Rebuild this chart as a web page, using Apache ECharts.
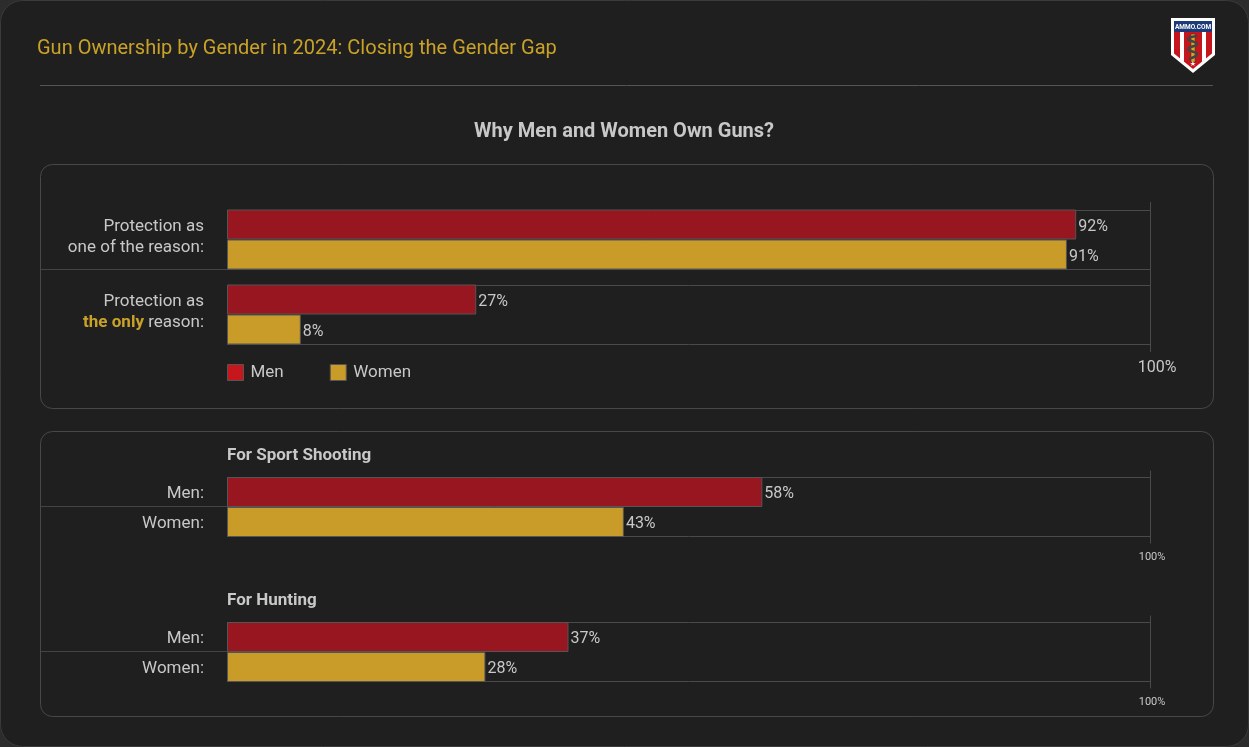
<!DOCTYPE html>
<html>
<head>
<meta charset="utf-8">
<title>Gun Ownership by Gender in 2024</title>
<script src="https://cdn.jsdelivr.net/npm/echarts@6/dist/echarts.min.js"></script>
<style>
  html, body { margin: 0; padding: 0; background: #2c2c2c; }
  #chart { width: 1249px; height: 747px; }
</style>
</head>
<body>
<div id="chart"></div>
<script>
// data
const reasonCategories = ['Protection as\none of the reason:', 'Protection as\n{hl|the only} reason:']
const menReason = [92, 27]
const womenReason = [91, 8]
const rowLabels = ['Men:', 'Women:']
const sportShooting = [58, 43]
const hunting = [37, 28]
const axisMax = 100

const MEN = '#98161f'
const WOMEN = '#c99b28'
const TEXT = '#c8c8c8'
const GOLD = '#c9a227'
const FRAME = '#4a4a4a'
const PANEL_LEFT = 40

const chart = echarts.init(document.getElementById('chart'))

function line(x1, y1, x2, y2, color) {
  return {
    type: 'line',
    shape: { x1: x1, y1: y1, x2: x2, y2: y2 },
    style: { stroke: color || FRAME, lineWidth: 1 }
  }
}

// frame around the grouped bars (panel 1)
function groupFrame(params, api) {
  const idx = api.value(1)
  const a = api.coord([0, idx])
  const b = api.coord([axisMax, idx])
  const band = api.size([0, 1])[1]
  const h = band * 0.8
  const top = Math.round(a[1] - h / 2) + 0.5
  const bottom = Math.round(a[1] + h / 2) - 0.5
  const right = Math.round(b[0]) + 0.5
  const cs = params.coordSys
  const children = [
    line(a[0], top, right, top),
    line(a[0], bottom, right, bottom)
  ]
  if (idx === 0) {
    children.push(line(right, cs.y, right, cs.y + cs.height))
    children.push(line(PANEL_LEFT, bottom, a[0], bottom, '#444'))
  }
  return { type: 'group', children: children }
}

// frame around the men / women pair (panel 2)
function pairFrame(params, api) {
  const cs = params.coordSys
  const right = Math.round(api.coord([axisMax, 0])[0]) + 0.5
  const top = cs.y + 0.5
  const bottom = cs.y + cs.height - 0.5
  const mid = Math.round(cs.y + cs.height / 2) - 0.5
  return {
    type: 'group',
    children: [
      line(cs.x, top, right, top),
      line(cs.x, bottom, right, bottom),
      line(right, top - 7, right, bottom + 7),
      line(PANEL_LEFT, mid, cs.x, mid, '#444')
    ]
  }
}

const barLabel = {
  show: true,
  position: 'right',
  distance: 2,
  offset: [0, 2],
  color: TEXT,
  fontSize: 16,
  fontFamily: 'Roboto',
  formatter: '{c}%'
}
const barBorder = { borderColor: '#555', borderWidth: 1 }

function xAxisFor(gridIndex, fontSize, margin) {
  return {
    gridIndex: gridIndex,
    type: 'value',
    min: 0,
    max: axisMax,
    interval: axisMax,
    axisLine: { show: false },
    axisTick: { show: false },
    splitLine: { show: false },
    axisLabel: {
      showMinLabel: false,
      formatter: '{value}%',
      color: TEXT,
      fontSize: fontSize,
      fontFamily: 'Roboto',
      margin: margin,
      padding: [0, 0, 0, fontSize === 16 ? 14 : 4]
    }
  }
}

function yAxisFor(gridIndex, data) {
  return {
    gridIndex: gridIndex,
    type: 'category',
    data: data,
    inverse: true,
    axisLine: { show: false },
    axisTick: { show: false },
    axisLabel: {
      color: TEXT,
      fontSize: 17,
      fontFamily: 'Roboto',
      margin: 23,
      lineHeight: 21,
      padding: gridIndex === 0 ? [0, 0, 5, 0] : [4, 0, 0, 0],
      rich: {
        hl: { color: GOLD, fontWeight: 'bold', fontSize: 17, fontFamily: 'Roboto', lineHeight: 21 }
      }
    }
  }
}

function pairColors(values) {
  return values.map(function (v, i) {
    return { value: v, itemStyle: { color: i === 0 ? MEN : WOMEN } }
  })
}

function titleText(text, x, y, opts) {
  return {
    type: 'text',
    x: x,
    y: y,
    style: Object.assign({
      text: text,
      fill: TEXT,
      fontFamily: 'Roboto',
      fontSize: 17,
      verticalAlign: 'middle'
    }, opts || {})
  }
}

// ammo.com badge
const logo = {
  type: 'group',
  x: 1171,
  y: 18,
  children: [
    { type: 'polygon', shape: { points: [[0, 0], [44, 0], [44, 37], [22, 55], [0, 37]] }, style: { fill: '#fff' } },
    { type: 'polygon', shape: { points: [[3, 3], [41, 3], [41, 35.5], [22, 51], [3, 35.5]] }, style: { fill: '#c4161c' } },
    { type: 'polygon', shape: { points: [[9, 14], [13, 14], [13, 44], [9, 41]] }, style: { fill: '#fff' } },
    { type: 'polygon', shape: { points: [[31, 14], [35, 14], [35, 41], [31, 44]] }, style: { fill: '#fff' } },
    { type: 'rect', shape: { x: 3, y: 3, width: 38, height: 11 }, style: { fill: '#1d3b78' } },
    { type: 'text', x: 22, y: 9, style: { text: 'AMMO.COM', fill: '#fff', fontSize: 6.5, fontWeight: 'bold', fontFamily: 'Liberation Sans Narrow, Roboto', align: 'center', verticalAlign: 'middle' } },
    { type: 'rect', shape: { x: 20, y: 16, width: 4, height: 28 }, style: { fill: '#d8a520', stroke: '#333', lineWidth: 0.5 } },
    { type: 'polyline', shape: { points: [[26, 18], [17, 21], [26, 26], [17, 31], [26, 36], [18, 41]], smooth: 0.5 }, style: { fill: null, stroke: '#444', lineWidth: 2.5 } },
    { type: 'text', x: 22, y: 46, style: { text: '★', fill: '#fff', fontSize: 7, fontFamily: 'DejaVu Sans', align: 'center', verticalAlign: 'middle' } }
  ]
}

const option = {
  backgroundColor: 'transparent',
  animation: false,
  graphic: [
    { type: 'rect', z: -10, shape: { x: 0.5, y: 0.5, width: 1248, height: 746, r: 22 }, style: { fill: '#1f1f1f', stroke: '#3a3a3a', lineWidth: 1 } },
    titleText('Gun Ownership by Gender in 2024: Closing the Gender Gap', 37, 49, { fill: GOLD, fontSize: 20 }),
    line(40, 85.5, 1213, 85.5, '#555'),
    logo,
    titleText('Why Men and Women Own Guns?', 624, 132, { fontSize: 20, fontWeight: 'bold', align: 'center' }),
    { type: 'rect', z: -5, shape: { x: 40.5, y: 164.5, width: 1173, height: 244, r: 12 }, style: { fill: '#1f1f1f', stroke: '#484848', lineWidth: 1 } },
    { type: 'rect', z: -5, shape: { x: 40.5, y: 431.5, width: 1173, height: 285, r: 12 }, style: { fill: '#1f1f1f', stroke: '#484848', lineWidth: 1 } },
    titleText('For Sport Shooting', 227, 456, { fontWeight: 'bold' }),
    titleText('For Hunting', 227, 601, { fontWeight: 'bold' })
  ],
  legend: {
    left: 227,
    top: 364,
    padding: 0,
    itemWidth: 16,
    itemHeight: 16,
    itemGap: 46,
    icon: 'rect',
    data: [
      { name: 'Men', itemStyle: { color: '#c8161d', borderColor: '#555', borderWidth: 1 } },
      { name: 'Women', itemStyle: { color: WOMEN, borderColor: '#555', borderWidth: 1 } }
    ],
    textStyle: { color: TEXT, fontSize: 17, fontFamily: 'Roboto', padding: [0, 0, 0, 2] }
  },
  grid: [
    { left: 227, width: 923, top: 202, height: 150 },
    { left: 227, width: 923, top: 477, height: 60 },
    { left: 227, width: 923, top: 622, height: 60 }
  ],
  xAxis: [xAxisFor(0, 16, 8), xAxisFor(1, 11, 15), xAxisFor(2, 11, 15)],
  yAxis: [yAxisFor(0, reasonCategories), yAxisFor(1, rowLabels), yAxisFor(2, rowLabels)],
  series: [
    {
      type: 'custom', name: 'frame0', xAxisIndex: 0, yAxisIndex: 0, z: 1,
      renderItem: groupFrame, encode: { x: 0, y: 1 }, data: [[0, 0], [0, 1]], silent: true
    },
    {
      name: 'Men', type: 'bar', xAxisIndex: 0, yAxisIndex: 0, z: 2,
      barCategoryGap: '20%', barGap: '0%',
      itemStyle: Object.assign({ color: MEN }, barBorder),
      label: barLabel, data: menReason
    },
    {
      name: 'Women', type: 'bar', xAxisIndex: 0, yAxisIndex: 0, z: 2,
      barCategoryGap: '20%', barGap: '0%',
      itemStyle: Object.assign({ color: WOMEN }, barBorder),
      label: barLabel, data: womenReason
    },
    {
      type: 'custom', name: 'frame1', xAxisIndex: 1, yAxisIndex: 1, z: 1,
      renderItem: pairFrame, encode: { x: 0, y: 1 }, data: [[0, 0]], silent: true
    },
    {
      name: 'Sport Shooting', type: 'bar', xAxisIndex: 1, yAxisIndex: 1, z: 2,
      barCategoryGap: '0%', itemStyle: barBorder,
      label: barLabel, data: pairColors(sportShooting)
    },
    {
      type: 'custom', name: 'frame2', xAxisIndex: 2, yAxisIndex: 2, z: 1,
      renderItem: pairFrame, encode: { x: 0, y: 1 }, data: [[0, 0]], silent: true
    },
    {
      name: 'Hunting', type: 'bar', xAxisIndex: 2, yAxisIndex: 2, z: 2,
      barCategoryGap: '0%', itemStyle: barBorder,
      label: barLabel, data: pairColors(hunting)
    }
  ]
}

chart.setOption(option)
</script>
</body>
</html>
